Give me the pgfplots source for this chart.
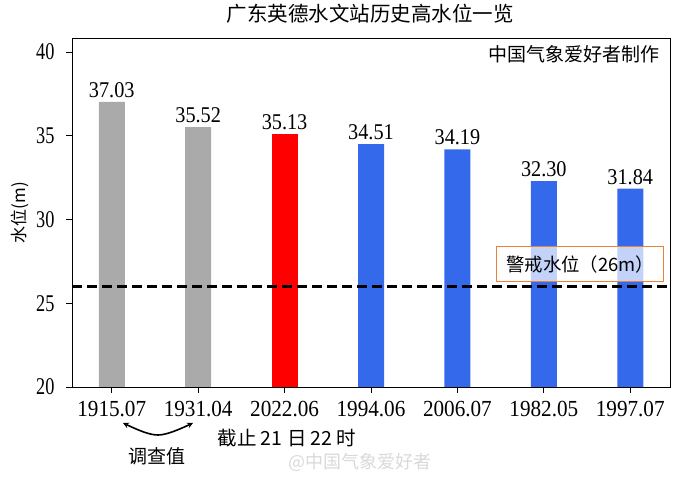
\documentclass[border=0pt]{standalone}
\usepackage{pgfplots}
\pgfplotsset{compat=1.18}
\usepackage{fontspec}
\setmainfont{Liberation Serif}
\newfontfamily\cjk{Noto Sans CJK SC}
\newfontfamily\xnum[FakeStretch=0.92]{Liberation Serif}
\newfontfamily\ynum[FakeStretch=0.76]{Liberation Serif}
\newfontfamily\bnum[FakeStretch=0.9]{Liberation Serif}
\definecolor{bgray}{RGB}{170,170,170}
\definecolor{bred}{RGB}{255,0,0}
\definecolor{bblue}{RGB}{52,105,235}
\definecolor{borange}{RGB}{232,130,58}
\pgfplotsset{barlab/.style={nodes near coords,
  every node near coord/.append style={font=\bnum\fontsize{22.5}{22.5}\selectfont, black, inner sep=1pt, yshift=3pt, /pgf/number format/.cd, fixed, precision=2, zerofill, assume math mode=true}}}
\begin{document}
\begin{tikzpicture}[x=1pt,y=1pt]
\useasboundingbox (0,0) rectangle (690,478);
\begin{axis}[
  at={(72pt,91pt)}, anchor=south west,
  scale only axis, width=598pt, height=349pt,
  xmin=-0.46, xmax=6.46, ymin=20, ymax=40.84,
  xtick={0,...,6},
  xticklabels={1915.07,1931.04,2022.06,1994.06,2006.07,1982.05,1997.07},
  ytick={20,25,30,35,40},
  tick align=outside, tick pos=left,
  major tick length=6pt,
  tick style={black, line width=0.8pt},
  axis line style={line width=0.8pt},
  /pgf/number format/assume math mode=true,
  xticklabel style={font=\xnum\fontsize{23}{23}\selectfont, yshift=-5pt},
  yticklabel style={font=\ynum\fontsize{24}{24}\selectfont, xshift=-8pt},
  ylabel={水位(m)},
  ylabel style={font=\cjk\fontsize{17}{17}\selectfont, at={(axis description cs:0,0.5)}, yshift=40pt},
  ybar, bar width=26pt,
]
\addplot[fill=bgray, draw=none, bar shift=0pt, barlab] coordinates {(0,37.03) (1,35.52)};
\addplot[fill=bred, draw=none, bar shift=0pt, barlab] coordinates {(2,35.13)};
\addplot[fill=bblue, draw=none, bar shift=0pt, barlab] coordinates {(3,34.51) (4,34.19) (5,32.30) (6,31.84)};
\addplot[sharp plot, black, line width=2.4pt, dash pattern=on 10pt off 5pt, forget plot] coordinates {(-0.46,26) (6.46,26)};
\fill[white, opacity=0.7] (axis cs:4.45,26.27) rectangle (axis cs:6.39,28.36);
\draw[borange, line width=1pt] (axis cs:4.45,26.27) rectangle (axis cs:6.39,28.36);
\node[font=\cjk\fontsize{18.4}{18.4}\selectfont] at (axis cs:5.42,27.3) {警戒水位（26m）};
\node[anchor=east, font=\cjk\fontsize{19}{19}\selectfont] at (axis cs:6.38,39.85) {中国气象爱好者制作};
\end{axis}
\node[font=\cjk\fontsize{20.5}{20.5}\selectfont] at (370,464) {广东英德水文站历史高水位一览};
\draw[line width=1.6pt, <->, >=stealth] (123,55) .. controls (140,47) and (150,43) .. (158,43) .. controls (166,43) and (178,48) .. (193,55);
\node[font=\cjk\fontsize{19}{19}\selectfont] at (157,22) {调查值};
\node[font=\cjk\fontsize{19.5}{19.5}\selectfont] at (287,40) {截止 21 日 22 时};
\node[font=\cjk\fontsize{18}{18}\selectfont, text=black!15] at (360,16) {@中国气象爱好者};
\end{tikzpicture}
\end{document}
